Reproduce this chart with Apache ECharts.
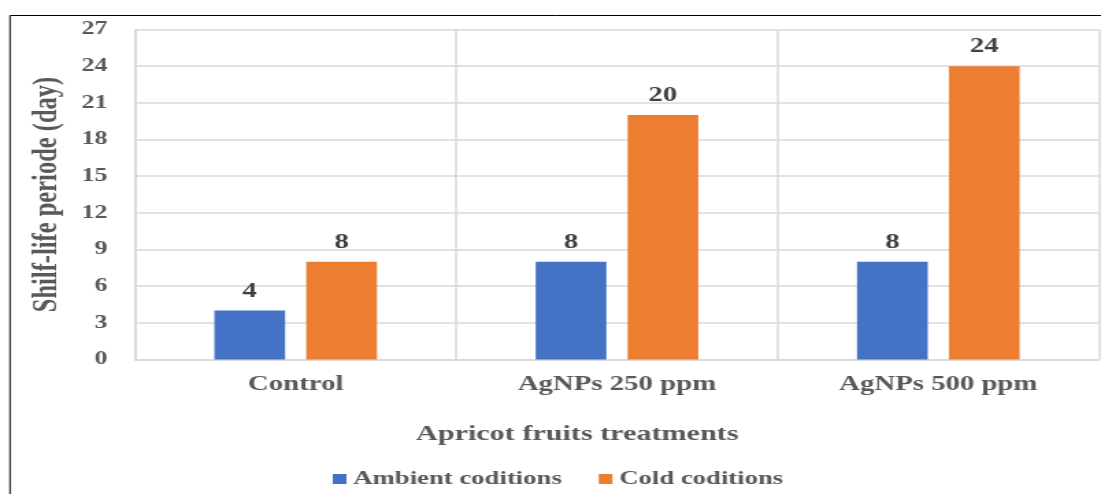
<!DOCTYPE html>
<html>
<head>
<meta charset="utf-8">
<script src="https://cdn.jsdelivr.net/npm/echarts@6/dist/echarts.min.js"></script>
<style>
  html, body { margin: 0; padding: 0; background: #fff; overflow: hidden; }
  #wrap { width: 1101px; height: 494px; overflow: hidden; }
  /* the figure is laid out narrow and widened horizontally */
  #chart { width: 804px; height: 494px; transform: scaleX(1.3694); transform-origin: 0 0; }
</style>
</head>
<body>
<div id="wrap"><div id="chart"></div></div>
<script>
const categories = ['Control', 'AgNPs 250 ppm', 'AgNPs 500 ppm'];
const ambientValues = [4, 8, 8];
const coldValues = [8, 20, 24];
const seriesNames = ['Ambient coditions', 'Cold coditions'];
const xAxisTitle = 'Apricot fruits treatments';
const yAxisTitle = 'Shilf-life periode (day)';

const serif = "'Liberation Serif', 'Times New Roman', serif";
const gridColor = '#d9d9d9';

const chart = echarts.init(document.getElementById('chart'));

const valueLabel = {
  show: true,
  position: 'top',
  distance: 9,
  fontFamily: serif,
  fontWeight: 'bold',
  fontSize: 21,
  color: '#404040'
};

chart.setOption({
  backgroundColor: '#fff',
  animation: false,
  graphic: [{
    type: 'rect',
    shape: { x: 7.3, y: 15.5, width: 1000, height: 600 },
    style: { fill: 'none', stroke: '#000', lineWidth: 1 },
    silent: true
  }],
  grid: { left: 98.6, right: 1.5, top: 29.5, bottom: 134.5, containLabel: false },
  legend: {
    data: seriesNames,
    left: 238,
    top: 464,
    icon: 'rect',
    itemWidth: 10,
    itemHeight: 10,
    itemGap: 27,
    textStyle: { fontFamily: serif, fontWeight: 'bold', fontSize: 19.5, color: '#595959' }
  },
  xAxis: {
    type: 'category',
    data: categories,
    name: xAxisTitle,
    nameLocation: 'middle',
    nameGap: 64,
    nameTextStyle: {
      fontFamily: serif, fontWeight: 'bold', fontSize: 22, color: '#595959',
      padding: [0, 58, 0, 0]
    },
    axisLine: { show: true, lineStyle: { color: gridColor, width: 1.5 } },
    axisTick: { show: false },
    axisLabel: { margin: 15, fontFamily: serif, fontWeight: 'bold', fontSize: 21, color: '#595959' },
    splitLine: { show: true, lineStyle: { color: gridColor, width: 1.5 } }
  },
  yAxis: {
    type: 'value',
    min: 0,
    max: 27,
    interval: 3,
    name: yAxisTitle,
    nameLocation: 'middle',
    nameGap: 51,
    nameTextStyle: { fontFamily: serif, fontWeight: 'bold', fontSize: 24.5, color: '#595959' },
    axisLine: { show: true, lineStyle: { color: gridColor, width: 1.5 } },
    axisTick: { show: false },
    axisLabel: { margin: 20, fontFamily: serif, fontWeight: 'bold', fontSize: 19, color: '#595959' },
    splitLine: { show: true, lineStyle: { color: gridColor, width: 1.5 } }
  },
  series: [
    {
      name: seriesNames[0],
      type: 'bar',
      data: ambientValues,
      barWidth: '22%',
      barGap: '30%',
      itemStyle: { color: '#4472C4' },
      label: valueLabel
    },
    {
      name: seriesNames[1],
      type: 'bar',
      data: coldValues,
      barWidth: '22%',
      barGap: '30%',
      itemStyle: { color: '#ED7D31' },
      label: valueLabel
    }
  ]
});
</script>
</body>
</html>
